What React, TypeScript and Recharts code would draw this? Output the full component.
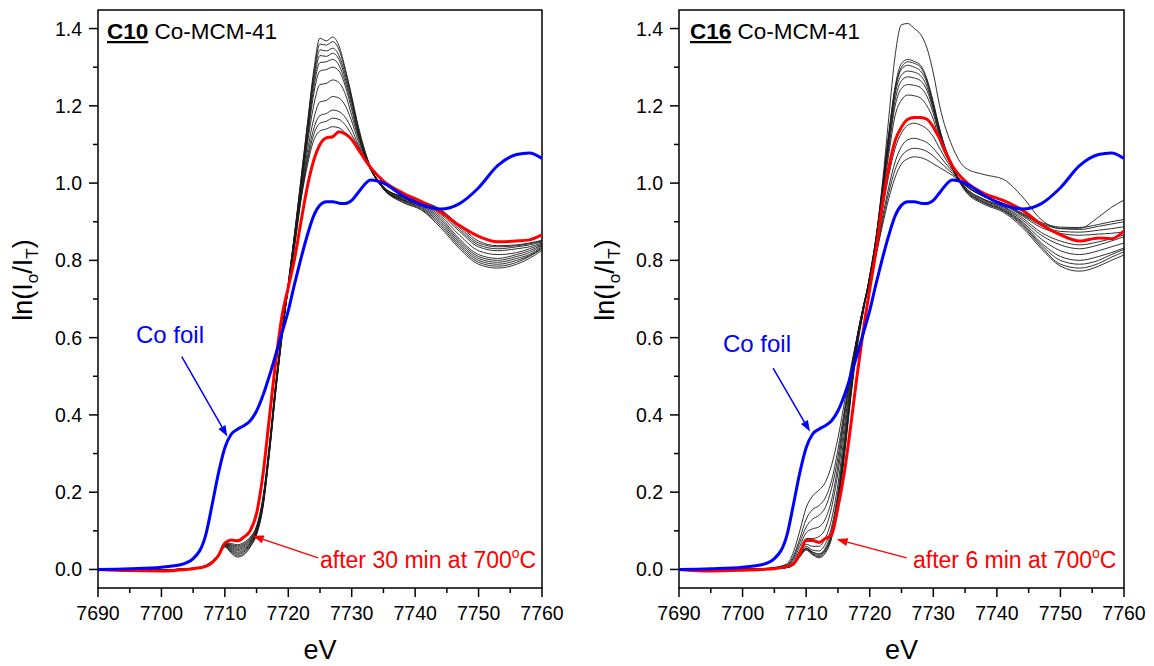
import React from 'react';
import { LineChart, Line, XAxis, YAxis, ReferenceArea, ReferenceLine } from 'recharts';

// ---- data ----
const ENERGY = [7690, 7695, 7700, 7703, 7705, 7707, 7708, 7709, 7710, 7711, 7712, 7713, 7714, 7715, 7716, 7717, 7718, 7719,
  7720, 7721, 7722, 7723, 7724, 7725, 7726, 7727, 7728, 7729, 7730, 7731, 7733, 7735, 7738, 7741, 7744, 7747, 7750, 7753, 7756, 7758, 7760];

const CO_FOIL = [0.000, 0.002, 0.006, 0.012, 0.028, 0.090, 0.168, 0.250, 0.315, 0.350, 0.363, 0.372, 0.385, 0.410, 0.450, 0.500, 0.555, 0.612,
  0.670, 0.740, 0.805, 0.865, 0.915, 0.943, 0.952, 0.952, 0.948, 0.947, 0.955, 0.975, 1.008, 1.000, 0.968, 0.944, 0.933, 0.947, 0.988, 1.045, 1.074, 1.078, 1.064];

const C10_FINAL = [0.000, -0.003, -0.004, -0.001, 0.002, 0.008, 0.018, 0.036, 0.068, 0.076, 0.074, 0.084, 0.100, 0.145, 0.245, 0.390, 0.535, 0.655,
  0.730, 0.805, 0.900, 0.990, 1.058, 1.100, 1.117, 1.120, 1.133, 1.127, 1.113, 1.088, 1.040, 1.005, 0.975, 0.952, 0.925, 0.890, 0.862, 0.848, 0.850, 0.853, 0.866];

const C10_SCANS = [
  [0.000, 0.001, -0.002, 0.001, 0.003, 0.008, 0.017, 0.034, 0.058, 0.042, 0.032, 0.038, 0.058, 0.090, 0.160, 0.295, 0.455, 0.600,
    0.740, 0.870, 1.010, 1.150, 1.290, 1.375, 1.368, 1.378, 1.355, 1.295, 1.225, 1.150, 1.040, 0.985, 0.950, 0.930, 0.885, 0.830, 0.790, 0.780, 0.790, 0.805, 0.826],
  [0.001, 0.000, -0.001, 0.000, 0.002, 0.009, 0.018, 0.035, 0.060, 0.045, 0.035, 0.041, 0.060, 0.092, 0.162, 0.298, 0.458, 0.602,
    0.740, 0.870, 1.010, 1.150, 1.280, 1.360, 1.357, 1.366, 1.345, 1.290, 1.220, 1.145, 1.040, 0.985, 0.952, 0.932, 0.890, 0.835, 0.795, 0.785, 0.795, 0.810, 0.830],
  [-0.001, 0.001, -0.002, 0.001, 0.003, 0.008, 0.018, 0.036, 0.061, 0.047, 0.039, 0.045, 0.063, 0.094, 0.165, 0.300, 0.460, 0.603,
    0.740, 0.868, 1.000, 1.140, 1.270, 1.345, 1.342, 1.349, 1.330, 1.280, 1.215, 1.140, 1.037, 0.985, 0.955, 0.935, 0.895, 0.840, 0.800, 0.790, 0.800, 0.812, 0.832],
  [0.000, 0.000, -0.001, 0.000, 0.002, 0.009, 0.019, 0.036, 0.062, 0.050, 0.042, 0.048, 0.066, 0.096, 0.167, 0.303, 0.462, 0.605,
    0.736, 0.865, 0.998, 1.130, 1.258, 1.330, 1.328, 1.336, 1.320, 1.270, 1.210, 1.135, 1.036, 0.986, 0.955, 0.937, 0.900, 0.845, 0.805, 0.795, 0.805, 0.815, 0.835],
  [0.001, -0.001, -0.002, 0.001, 0.003, 0.009, 0.019, 0.037, 0.063, 0.052, 0.045, 0.051, 0.068, 0.098, 0.170, 0.305, 0.465, 0.606,
    0.735, 0.862, 0.992, 1.120, 1.245, 1.312, 1.314, 1.320, 1.305, 1.260, 1.200, 1.130, 1.036, 0.986, 0.957, 0.940, 0.905, 0.850, 0.810, 0.800, 0.810, 0.820, 0.838],
  [0.000, 0.001, -0.001, 0.000, 0.002, 0.009, 0.019, 0.037, 0.064, 0.055, 0.049, 0.055, 0.071, 0.100, 0.172, 0.308, 0.467, 0.608,
    0.735, 0.860, 0.988, 1.110, 1.230, 1.290, 1.294, 1.300, 1.290, 1.250, 1.190, 1.125, 1.035, 0.987, 0.958, 0.942, 0.910, 0.855, 0.815, 0.805, 0.815, 0.825, 0.840],
  [0.001, 0.000, -0.002, 0.001, 0.003, 0.010, 0.020, 0.038, 0.065, 0.057, 0.052, 0.058, 0.073, 0.102, 0.175, 0.310, 0.470, 0.610,
    0.732, 0.855, 0.980, 1.100, 1.200, 1.255, 1.258, 1.267, 1.260, 1.230, 1.175, 1.120, 1.035, 0.988, 0.960, 0.945, 0.915, 0.865, 0.825, 0.815, 0.820, 0.830, 0.842],
  [-0.001, 0.001, -0.001, 0.000, 0.002, 0.010, 0.020, 0.038, 0.066, 0.060, 0.055, 0.061, 0.076, 0.105, 0.178, 0.313, 0.472, 0.612,
    0.730, 0.850, 0.972, 1.080, 1.165, 1.210, 1.214, 1.224, 1.220, 1.200, 1.160, 1.110, 1.035, 0.990, 0.962, 0.948, 0.920, 0.875, 0.835, 0.825, 0.830, 0.835, 0.845],
  [0.000, 0.000, -0.002, 0.001, 0.003, 0.010, 0.021, 0.039, 0.067, 0.062, 0.058, 0.064, 0.078, 0.107, 0.180, 0.316, 0.475, 0.614,
    0.730, 0.846, 0.965, 1.065, 1.140, 1.175, 1.180, 1.189, 1.185, 1.170, 1.140, 1.100, 1.035, 0.990, 0.963, 0.950, 0.925, 0.880, 0.840, 0.830, 0.835, 0.840, 0.848],
  [0.001, 0.001, -0.001, 0.000, 0.002, 0.010, 0.021, 0.039, 0.068, 0.064, 0.061, 0.067, 0.081, 0.110, 0.183, 0.318, 0.477, 0.616,
    0.728, 0.840, 0.960, 1.055, 1.125, 1.155, 1.160, 1.168, 1.165, 1.150, 1.125, 1.095, 1.035, 0.990, 0.965, 0.952, 0.930, 0.885, 0.845, 0.835, 0.838, 0.843, 0.850],
  [0.000, -0.001, -0.002, 0.001, 0.003, 0.011, 0.022, 0.040, 0.070, 0.067, 0.064, 0.070, 0.084, 0.113, 0.186, 0.320, 0.480, 0.618,
    0.726, 0.835, 0.955, 1.045, 1.110, 1.135, 1.140, 1.146, 1.143, 1.130, 1.110, 1.090, 1.035, 0.990, 0.965, 0.953, 0.932, 0.890, 0.850, 0.838, 0.840, 0.845, 0.852],
];

const C16_FINAL = [0.000, -0.004, -0.002, 0.000, 0.002, 0.008, 0.014, 0.040, 0.075, 0.075, 0.070, 0.080, 0.090, 0.160, 0.250, 0.370, 0.500, 0.620,
  0.725, 0.825, 0.945, 1.040, 1.110, 1.145, 1.165, 1.170, 1.170, 1.165, 1.145, 1.115, 1.045, 1.005, 0.973, 0.955, 0.930, 0.893, 0.866, 0.850, 0.858, 0.856, 0.876];

const C16_SCANS = [
  [0.002, -0.002, 0.001, -0.001, 0.003, 0.005, 0.012, 0.035, 0.055, 0.045, 0.040, 0.050, 0.090, 0.175, 0.300, 0.450, 0.580, 0.670,
    0.760, 0.860, 1.000, 1.170, 1.330, 1.410, 1.413, 1.400, 1.385, 1.350, 1.285, 1.200, 1.095, 1.040, 1.022, 1.010, 0.965, 0.905, 0.883, 0.883, 0.912, 0.937, 0.956],
  [0.000, 0.002, -0.001, 0.001, 0.002, 0.005, 0.012, 0.033, 0.050, 0.038, 0.030, 0.042, 0.080, 0.165, 0.290, 0.440, 0.570, 0.670,
    0.760, 0.860, 0.990, 1.130, 1.250, 1.310, 1.320, 1.315, 1.305, 1.270, 1.210, 1.140, 1.040, 0.980, 0.945, 0.925, 0.885, 0.830, 0.785, 0.772, 0.785, 0.800, 0.814],
  [-0.002, 0.001, 0.002, 0.000, 0.003, 0.005, 0.012, 0.033, 0.052, 0.040, 0.033, 0.045, 0.085, 0.170, 0.300, 0.450, 0.580, 0.670,
    0.760, 0.860, 0.990, 1.125, 1.245, 1.300, 1.314, 1.310, 1.300, 1.265, 1.205, 1.140, 1.040, 0.982, 0.948, 0.928, 0.890, 0.835, 0.790, 0.780, 0.792, 0.808, 0.822],
  [0.001, -0.001, 0.000, 0.002, 0.002, 0.005, 0.012, 0.035, 0.055, 0.042, 0.036, 0.050, 0.090, 0.180, 0.310, 0.450, 0.580, 0.670,
    0.755, 0.855, 0.985, 1.120, 1.240, 1.295, 1.305, 1.300, 1.290, 1.260, 1.200, 1.135, 1.040, 0.984, 0.950, 0.930, 0.893, 0.840, 0.800, 0.790, 0.800, 0.815, 0.828],
  [0.000, 0.001, -0.002, 0.001, 0.003, 0.005, 0.013, 0.035, 0.055, 0.045, 0.040, 0.055, 0.100, 0.190, 0.320, 0.460, 0.580, 0.680,
    0.755, 0.855, 0.980, 1.110, 1.230, 1.280, 1.290, 1.287, 1.278, 1.250, 1.195, 1.130, 1.040, 0.985, 0.952, 0.932, 0.897, 0.845, 0.810, 0.800, 0.810, 0.820, 0.832],
  [0.002, 0.000, 0.001, -0.001, 0.002, 0.006, 0.015, 0.040, 0.060, 0.050, 0.048, 0.065, 0.110, 0.200, 0.330, 0.470, 0.590, 0.680,
    0.755, 0.850, 0.975, 1.100, 1.215, 1.265, 1.275, 1.272, 1.265, 1.240, 1.190, 1.125, 1.040, 0.987, 0.955, 0.935, 0.900, 0.855, 0.825, 0.815, 0.825, 0.835, 0.845],
  [-0.001, 0.002, 0.000, 0.001, 0.003, 0.006, 0.015, 0.040, 0.065, 0.060, 0.060, 0.080, 0.130, 0.220, 0.350, 0.480, 0.590, 0.680,
    0.750, 0.850, 0.970, 1.090, 1.200, 1.245, 1.255, 1.253, 1.247, 1.225, 1.180, 1.120, 1.040, 0.990, 0.957, 0.938, 0.905, 0.865, 0.840, 0.830, 0.840, 0.850, 0.861],
  [0.001, -0.002, 0.002, 0.000, 0.003, 0.008, 0.020, 0.050, 0.080, 0.080, 0.085, 0.105, 0.160, 0.250, 0.370, 0.490, 0.600, 0.680,
    0.750, 0.845, 0.960, 1.075, 1.175, 1.215, 1.228, 1.226, 1.220, 1.200, 1.165, 1.110, 1.040, 0.990, 0.958, 0.940, 0.910, 0.872, 0.850, 0.840, 0.848, 0.856, 0.866],
  [0.000, 0.001, -0.001, 0.002, 0.004, 0.010, 0.025, 0.060, 0.095, 0.105, 0.110, 0.130, 0.180, 0.270, 0.390, 0.500, 0.600, 0.680,
    0.740, 0.830, 0.930, 1.020, 1.090, 1.130, 1.150, 1.155, 1.150, 1.140, 1.120, 1.090, 1.035, 0.995, 0.965, 0.945, 0.915, 0.885, 0.870, 0.865, 0.868, 0.870, 0.874],
  [0.002, 0.000, 0.001, 0.001, 0.004, 0.010, 0.030, 0.070, 0.110, 0.130, 0.140, 0.160, 0.210, 0.290, 0.400, 0.510, 0.600, 0.680,
    0.740, 0.820, 0.910, 0.990, 1.055, 1.095, 1.112, 1.116, 1.112, 1.105, 1.090, 1.070, 1.030, 0.995, 0.965, 0.945, 0.918, 0.890, 0.875, 0.873, 0.878, 0.882, 0.887],
  [-0.001, 0.002, 0.000, 0.002, 0.005, 0.012, 0.035, 0.080, 0.130, 0.155, 0.165, 0.185, 0.230, 0.310, 0.410, 0.510, 0.600, 0.680,
    0.745, 0.815, 0.900, 0.975, 1.035, 1.070, 1.085, 1.090, 1.088, 1.082, 1.070, 1.055, 1.025, 0.995, 0.965, 0.947, 0.920, 0.895, 0.882, 0.880, 0.888, 0.894, 0.900],
  [0.001, 0.000, 0.002, 0.001, 0.005, 0.015, 0.045, 0.100, 0.160, 0.190, 0.205, 0.225, 0.270, 0.340, 0.430, 0.520, 0.600, 0.680,
    0.750, 0.815, 0.890, 0.960, 1.015, 1.050, 1.063, 1.068, 1.066, 1.060, 1.050, 1.040, 1.020, 0.995, 0.965, 0.948, 0.922, 0.898, 0.886, 0.885, 0.893, 0.900, 0.906],
];

const X_TICKS = [7690, 7695, 7700, 7705, 7710, 7715, 7720, 7725, 7730, 7735, 7740, 7745, 7750, 7755, 7760];
const Y_TICKS = [0, 0.1, 0.2, 0.3, 0.4, 0.5, 0.6, 0.7, 0.8, 0.9, 1.0, 1.1, 1.2, 1.3, 1.4];
const X_DOMAIN = [7690, 7760];
const Y_DOMAIN = [-0.048, 1.448];

// annotation arrows (data coordinates: tail -> head)
const C10_FOIL_ARROW = [{ x: 7703.2, y: 0.551 }, { x: 7710.4, y: 0.344 }];
const C10_FINAL_ARROW = [{ x: 7724.7, y: 0.030 }, { x: 7714.4, y: 0.087 }];
const C16_FOIL_ARROW = [{ x: 7704.8, y: 0.521 }, { x: 7710.6, y: 0.357 }];
const C16_FINAL_ARROW = [{ x: 7725.8, y: 0.030 }, { x: 7714.8, y: 0.078 }];

const FONT = "'Liberation Sans', Arial, Helvetica, sans-serif";
const RED = '#ff0000';
const BLUE = '#0000ff';

function buildRows(scans: number[][], final: number[], foil: number[]) {
  return ENERGY.map((e, i) => {
    const row: Record<string, number> = { e, final: final[i], foil: foil[i] };
    scans.forEach((s, k) => {
      row['s' + k] = s[i];
    });
    return row;
  });
}

const XTick = (props: any) => {
  const { x, y, payload } = props;
  const v = payload.value as number;
  const major = Math.round(v) % 10 === 0;
  return (
    <g>
      <line x1={x} y1={y} x2={x} y2={y + (major ? 9 : 5)} stroke="#000" strokeWidth={1.5} />
      {major && (
        <text x={x} y={y + 32} textAnchor="middle" fontSize={19.5} fontFamily={FONT} fill="#000">
          {v}
        </text>
      )}
    </g>
  );
};

const YTick = (props: any) => {
  const { x, y, payload } = props;
  const v = payload.value as number;
  const major = Math.round(v * 10) % 2 === 0;
  return (
    <g>
      <line x1={x} y1={y} x2={x - (major ? 9 : 5)} y2={y} stroke="#000" strokeWidth={1.5} />
      {major && (
        <text x={x - 16} y={y + 7} textAnchor="end" fontSize={19.5} fontFamily={FONT} fill="#000">
          {v.toFixed(1)}
        </text>
      )}
    </g>
  );
};

const arrowShape = (color: string) => (p: any) => {
  const { x1, y1, x2, y2 } = p;
  if ([x1, y1, x2, y2].some((v) => typeof v !== 'number' || isNaN(v))) return <g />;
  const dx = x2 - x1;
  const dy = y2 - y1;
  const len = Math.hypot(dx, dy) || 1;
  const ux = dx / len;
  const uy = dy / len;
  const hl = 11;
  const hw = 4;
  const bx = x2 - ux * hl;
  const by = y2 - uy * hl;
  const pts = `${x2},${y2} ${bx - uy * hw},${by + ux * hw} ${bx + uy * hw},${by - ux * hw}`;
  return (
    <g>
      <line x1={x1} y1={y1} x2={bx} y2={by} stroke={color} strokeWidth={1.5} />
      <polygon points={pts} fill={color} />
    </g>
  );
};

type PanelProps = {
  left: number;
  margin: { top: number; right: number; bottom: number; left: number };
  scans: number[][];
  final: number[];
  foilArrow: { x: number; y: number }[];
  finalArrow: { x: number; y: number }[];
};

function Panel({ left, margin, scans, final, foilArrow, finalArrow }: PanelProps) {
  const rows = buildRows(scans, final, CO_FOIL);
  return (
    <div style={{ position: 'absolute', left, top: 0 }}>
      <LineChart width={577} height={666} data={rows} margin={margin}>
        <XAxis
          dataKey="e"
          type="number"
          domain={X_DOMAIN}
          ticks={X_TICKS}
          interval={0}
          tickSize={0}
          tickMargin={0}
          axisLine={false}
          tickLine={false}
          tick={(p: any) => <XTick {...p} />}
          height={40}
          allowDataOverflow
        />
        <YAxis
          type="number"
          domain={Y_DOMAIN}
          ticks={Y_TICKS}
          interval={0}
          tickSize={0}
          tickMargin={0}
          axisLine={false}
          tickLine={false}
          tick={(p: any) => <YTick {...p} />}
          width={60}
          allowDataOverflow
        />
        {scans.map((_, k) => (
          <Line
            key={'s' + k}
            dataKey={'s' + k}
            type="monotone"
            stroke="#1a1a1a"
            strokeWidth={0.9}
            dot={false}
            activeDot={false}
            isAnimationActive={false}
          />
        ))}
        <Line dataKey="final" type="monotone" stroke={RED} strokeWidth={3} dot={false} activeDot={false} isAnimationActive={false} />
        <Line dataKey="foil" type="monotone" stroke={BLUE} strokeWidth={3} dot={false} activeDot={false} isAnimationActive={false} />
        <ReferenceArea
          x1={X_DOMAIN[0]}
          x2={X_DOMAIN[1]}
          y1={Y_DOMAIN[0]}
          y2={Y_DOMAIN[1]}
          fill="none"
          fillOpacity={0}
          stroke="#000"
          strokeWidth={1.5}
          ifOverflow="visible"
        />
        <ReferenceLine segment={foilArrow} ifOverflow="visible" shape={arrowShape(BLUE)} />
        <ReferenceLine segment={finalArrow} ifOverflow="visible" shape={arrowShape(RED)} />
      </LineChart>
    </div>
  );
}

function YLabel({ x }: { x: number }) {
  return (
    <text transform={`translate(${x},280) rotate(-90)`} textAnchor="middle" fontSize={27} fontFamily={FONT} fill="#000">
      ln(I
      <tspan fontSize={17} dy={6}>o</tspan>
      <tspan dy={-6}>/I</tspan>
      <tspan fontSize={17} dy={6}>T</tspan>
      <tspan dy={-6}>)</tspan>
    </text>
  );
}

export default function App() {
  return (
    <div style={{ position: 'absolute', left: 0, top: 0, width: 1154, height: 666, background: '#fff', overflow: 'hidden' }}>
      <Panel
        left={0}
        margin={{ top: 10, right: 35, bottom: 38, left: 38 }}
        scans={C10_SCANS}
        final={C10_FINAL}
        foilArrow={C10_FOIL_ARROW}
        finalArrow={C10_FINAL_ARROW}
      />
      <Panel
        left={577}
        margin={{ top: 10, right: 30, bottom: 38, left: 42 }}
        scans={C16_SCANS}
        final={C16_FINAL}
        foilArrow={C16_FOIL_ARROW}
        finalArrow={C16_FINAL_ARROW}
      />
      <svg width={1154} height={666} style={{ position: 'absolute', left: 0, top: 0, pointerEvents: 'none' }}>
        <g fontFamily={FONT}>
          <text x={107} y={39} fontSize={22.5} fill="#000">
            <tspan fontWeight="bold" style={{ textDecoration: 'underline' }}>C10</tspan>
            <tspan> Co-MCM-41</tspan>
          </text>
          <text x={690} y={39} fontSize={22.5} fill="#000">
            <tspan fontWeight="bold" style={{ textDecoration: 'underline' }}>C16</tspan>
            <tspan> Co-MCM-41</tspan>
          </text>
          <YLabel x={32} />
          <YLabel x={614} />
          <text x={320} y={659} textAnchor="middle" fontSize={27} fill="#000">eV</text>
          <text x={901.5} y={659} textAnchor="middle" fontSize={27} fill="#000">eV</text>
          <text x={204} y={343} textAnchor="end" fontSize={24} fill={BLUE}>Co foil</text>
          <text x={791} y={352} textAnchor="end" fontSize={24} fill={BLUE}>Co foil</text>
          <text x={320} y={568} fontSize={23} fill={RED}>
            after 30 min at 700
            <tspan fontSize={14} dy={-10}>o</tspan>
            <tspan dy={10}>C</tspan>
          </text>
          <text x={913} y={568} fontSize={23} fill={RED}>
            after 6 min at 700
            <tspan fontSize={14} dy={-10}>o</tspan>
            <tspan dy={10}>C</tspan>
          </text>
        </g>
      </svg>
    </div>
  );
}
